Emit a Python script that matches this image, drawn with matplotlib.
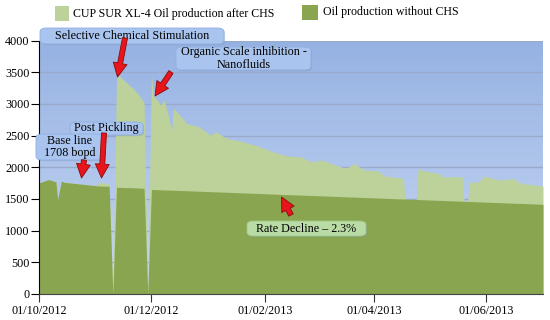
import numpy as np
import pandas as pd
import matplotlib
matplotlib.use('Agg')
import matplotlib.pyplot as plt
from matplotlib.colors import LinearSegmentedColormap
from matplotlib.patches import FancyBboxPatch, FancyArrowPatch, Rectangle

plt.rcParams['font.family'] = ['Liberation Serif', 'DejaVu Serif']

# days after 01/10/2012, production without CHS, production after CHS (bopd)
days = [0, 5, 9, 10, 12, 14, 24, 31, 32, 37, 38, 40, 42, 43, 47, 51, 55, 57, 59,
        61, 62, 66, 68, 72, 73, 78, 80, 87, 93, 96, 102, 111, 120, 127, 135, 142,
        148, 154, 161, 167, 171, 177, 184, 188, 198, 199, 205, 206, 218, 219, 230,
        231, 233, 234, 237, 240, 242, 250, 258, 262, 274]
without_chs = [1755, 1805, 1770, 1490, 1780, 1760, 1730, 1708, 1705, 1700, 1700, 0,
               1685, 1684, 1680, 1676, 1671, 1667, 0,
               1650, 1649, 1644, 1642, 1638, 1637, 1632, 1630, 1622, 1615, 1612,
               1605, 1595, 1585, 1577, 1568, 1561, 1554, 1548, 1540, 1533, 1529,
               1522, 1515, 1510, 1499, 1498, 1491, 1490, 1477, 1476, 1464, 1463,
               1461, 1460, 1456, 1453, 1451, 1442, 1433, 1429, 1415]
after_chs = [1755, 1805, 1770, 1490, 1780, 1760, 1730, 1708, 1755, 1750, 1700, 0,
             3400, 3454, 3348, 3244, 3112, 3007, 0,
             3470, 3140, 2981, 3060, 2586, 2928, 2770, 2692, 2638, 2507, 2560,
             2455, 2402, 2323, 2244, 2176, 2165, 2087, 2113, 2034, 1982, 2061,
             1955, 1944, 1861, 1824, 1498, 1491, 1966, 1892, 1850, 1850, 1463,
             1461, 1771, 1755, 1798, 1861, 1798, 1820, 1746, 1703]

start = pd.Timestamp('2012-10-01')
dates = start + pd.to_timedelta(days, unit='D')

tick_dates = pd.to_datetime(['2012-10-01', '2012-12-01', '2013-02-01', '2013-04-01', '2013-06-01'])
tick_labels = ['01/10/2012', '01/12/2012', '01/02/2013', '01/04/2013', '01/06/2013']
y_ticks = list(range(0, 4001, 500))

c_dark = '#8aa54f'
c_light = '#bdd29b'

W, H = 550, 320
fig = plt.figure(figsize=(5.5, 3.2), dpi=100)


def fx(x):
    return x / W


def fy(y):
    return 1 - y / H


ax = fig.add_axes([fx(39.3), fy(294), fx(543) - fx(39.3), fy(40.5) - fy(294)])

bg = LinearSegmentedColormap.from_list('bg', ['#c8d8f2', '#96b2e3'])
ax.imshow(np.linspace(0, 1, 256).reshape(-1, 1), cmap=bg, origin='lower',
          extent=[0, 1, 0, 1], transform=ax.transAxes, aspect='auto', zorder=0)

for v in y_ticks[1:]:
    ax.axhline(v, color='#9aaacb', lw=1.0, zorder=1)

ax.fill_between(dates, 0, after_chs, color=c_light, lw=0, zorder=2)
ax.fill_between(dates, 0, without_chs, color=c_dark, lw=0, zorder=3)

ax.set_xlim(start, start + pd.Timedelta(days=274))
ax.set_ylim(0, 4000)
ax.set_xticks(tick_dates)
ax.set_xticklabels(tick_labels)
ax.set_yticks(y_ticks)
ax.tick_params(axis='both', labelsize=8.7, length=6, width=0.8, direction='out')
ax.tick_params(axis='x', pad=2, colors='#333333', labelcolor='black')
ax.tick_params(axis='y', pad=1)
for s in ['top', 'right']:
    ax.spines[s].set_visible(False)
ax.spines['left'].set_color('black')
ax.spines['bottom'].set_color('#444444')
ax.spines['left'].set_zorder(5)
ax.spines['bottom'].set_zorder(5)

# legend
fig.patches.append(Rectangle((fx(55), fy(20.5)), fx(14), fy(6) - fy(20.5),
                             transform=fig.transFigure, fc=c_light, ec='none'))
fig.text(fx(73), fy(13.5), 'CUP SUR XL-4 Oil production after CHS', fontsize=8.6, va='center')
fig.patches.append(Rectangle((fx(302), fy(19.5)), fx(16), fy(5) - fy(19.5),
                             transform=fig.transFigure, fc=c_dark, ec='none'))
fig.text(fx(323), fy(12.5), 'Oil production without CHS', fontsize=8.6, va='center')


def box(x0, y0, x1, y1, text, fc, ec):
    fig.patches.append(FancyBboxPatch((fx(x0) + 0.002, fy(y1) - 0.004),
                                      fx(x1 - x0), fy(y0) - fy(y1),
                                      boxstyle='round,pad=0,rounding_size=0.012',
                                      transform=fig.transFigure, fc='#7f93b5', ec='none',
                                      alpha=0.35, zorder=6))
    fig.patches.append(FancyBboxPatch((fx(x0), fy(y1)), fx(x1 - x0), fy(y0) - fy(y1),
                                      boxstyle='round,pad=0,rounding_size=0.012',
                                      transform=fig.transFigure, fc=fc, ec=ec, lw=0.6,
                                      zorder=7))
    fig.text(fx((x0 + x1) / 2), fy((y0 + y1) / 2), text, fontsize=8.7, ha='center',
             va='center', linespacing=1.05, zorder=8)


def arrow(x0, y0, x1, y1):
    fig.patches.append(FancyArrowPatch((fx(x0), fy(y0)), (fx(x1), fy(y1)),
                                       transform=fig.transFigure,
                                       arrowstyle='simple,head_length=10,head_width=10,tail_width=3.6',
                                       mutation_scale=1, fc='#e8151b', ec='#8a0a0a',
                                       lw=0.6, zorder=9, shrinkA=0, shrinkB=0))


blue_fc, blue_ec = '#a9c4ee', '#8fb0e2'
box(40, 28, 224, 44, 'Selective Chemical Stimulation', blue_fc, blue_ec)
box(176, 47, 311, 70, 'Organic Scale inhibition -\nNanofluids', blue_fc, blue_ec)
box(70, 122, 143, 135, 'Post Pickling', blue_fc, blue_ec)
box(36, 134, 103, 160, 'Base line\n1708 bopd', blue_fc, blue_ec)
box(247, 221, 366, 236, 'Rate Decline \u2013 2.3%', '#b9dba6', '#9fc98a')

arrow(125, 38, 117.5, 77)
arrow(171, 72, 155, 96)
arrow(84, 160, 81.5, 178)
arrow(104, 133, 101.5, 178)
arrow(291, 215, 281.5, 197)

fig.savefig('out.png', dpi=100)
